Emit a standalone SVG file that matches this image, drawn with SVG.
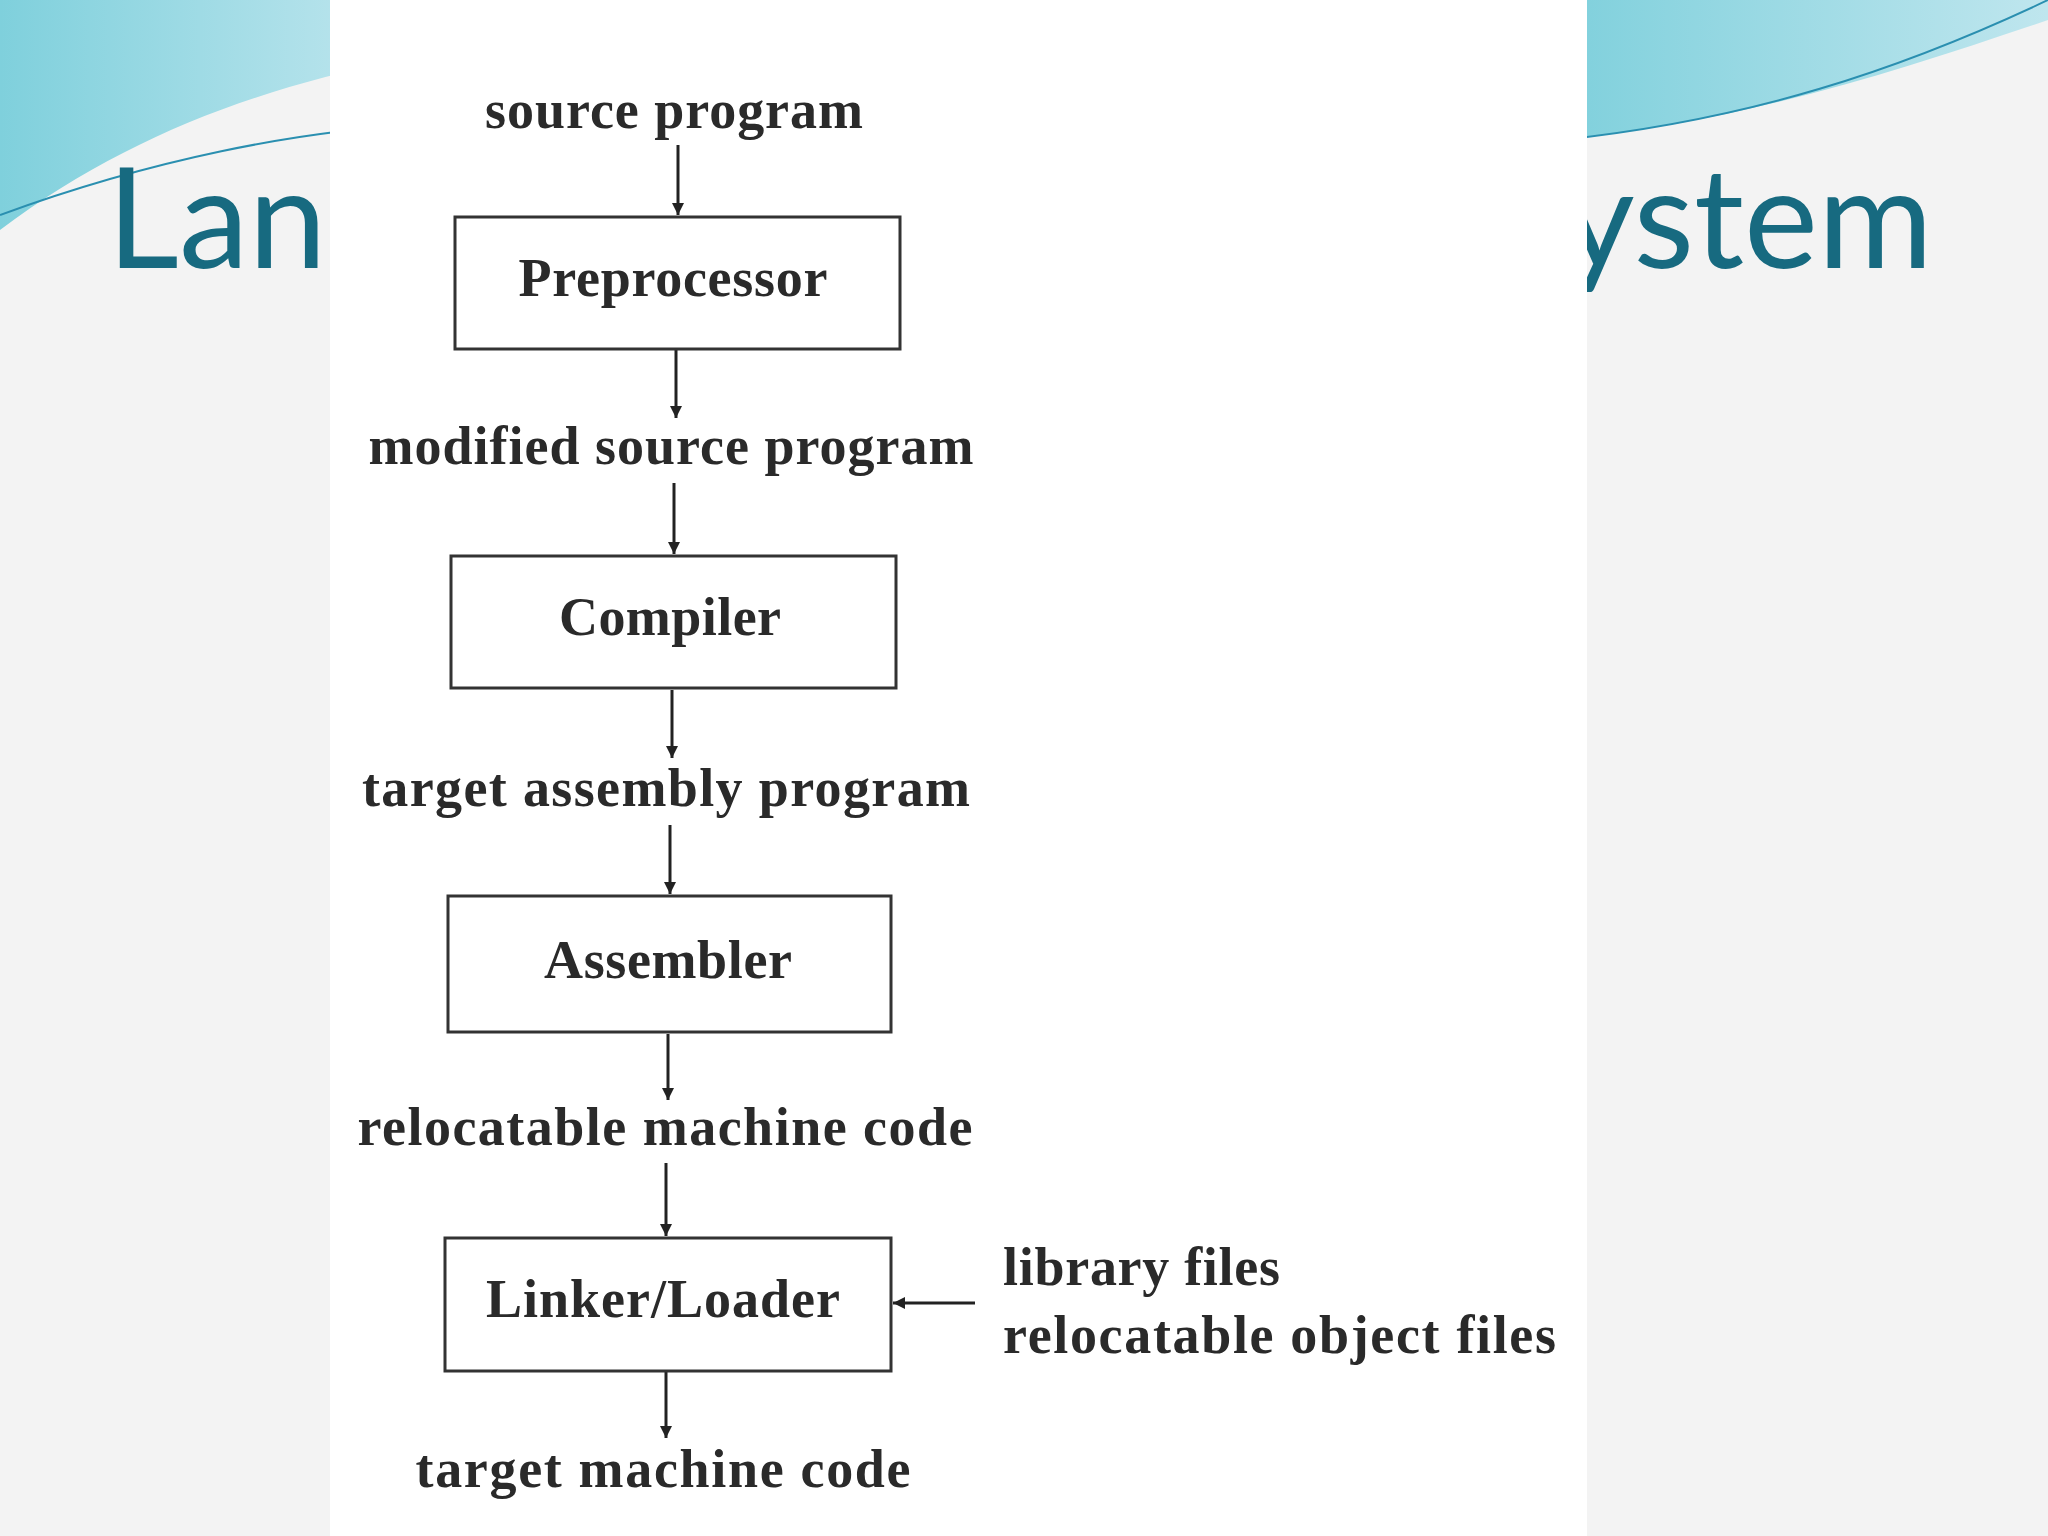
<svg xmlns="http://www.w3.org/2000/svg" width="2048" height="1536" viewBox="0 0 2048 1536">
<defs>
<marker id="ah" viewBox="0 0 10 10" refX="10" refY="5" markerWidth="12" markerHeight="16" orient="auto" markerUnits="userSpaceOnUse"><path d="M0,0 L10,5 L0,10 z" fill="#222"/></marker>
<linearGradient id="wv" x1="0" y1="0" x2="1" y2="0"><stop offset="0" stop-color="#7fd0dc"/><stop offset="1" stop-color="#bfe6ee"/></linearGradient>
</defs>
<style>
.box{fill:#fff;stroke:#333;stroke-width:3}
.t{font-family:"Liberation Serif",serif;font-size:54px;font-weight:bold;fill:#2a2a2a;text-anchor:middle}
.l{font-family:"Liberation Serif",serif;font-size:54px;font-weight:bold;fill:#2a2a2a}
.c{stroke:#222;stroke-width:3;fill:none;marker-end:url(#ah)}
.ti{font-family:Lato,sans-serif;font-size:140px;fill:#176a80}
</style>
<rect width="2048" height="1536" fill="#f3f3f3"/>
<path d="M0,0 H400 V60 C250,90 120,140 0,230 Z" fill="url(#wv)"/>
<path d="M0,215 C150,160 300,130 420,125" stroke="#2a8fb0" stroke-width="2" fill="none"/>
<path d="M1560,0 H2048 V20 C1900,70 1750,120 1560,140 Z" fill="url(#wv)"/>
<path d="M1560,140 C1750,120 1900,70 2048,0" stroke="#2a8fb0" stroke-width="2" fill="none"/>
<g id="title"><text class="ti" x="107" y="268">Lan</text><text class="ti" x="1933" y="268" text-anchor="end">ystem</text></g>
<rect x="330" y="0" width="1257" height="1536" fill="#fff"/>
<g id="connectors">
<line class="c" x1="678" y1="145" x2="678" y2="215"/>
<line class="c" x1="676" y1="350" x2="676" y2="418"/>
<line class="c" x1="674" y1="483" x2="674" y2="554"/>
<line class="c" x1="672" y1="690" x2="672" y2="758"/>
<line class="c" x1="670" y1="825" x2="670" y2="894"/>
<line class="c" x1="668" y1="1034" x2="668" y2="1100"/>
<line class="c" x1="666" y1="1163" x2="666" y2="1236"/>
<line class="c" x1="666" y1="1372" x2="666" y2="1438"/>
<line class="c" x1="975" y1="1303" x2="893" y2="1303"/>
</g>
<g id="n_src"><text class="t" x="674" y="128" textLength="378">source program</text></g>
<g id="n_pre"><rect class="box" x="455" y="217" width="445" height="132"/><text class="t" x="673" y="296" textLength="309">Preprocessor</text></g>
<g id="n_mod"><text class="t" x="671" y="464" textLength="605">modified source program</text></g>
<g id="n_comp"><rect class="box" x="451" y="556" width="445" height="132"/><text class="t" x="670" y="635" textLength="222">Compiler</text></g>
<g id="n_tap"><text class="t" x="666" y="806" textLength="608">target assembly program</text></g>
<g id="n_asm"><rect class="box" x="448" y="896" width="443" height="136"/><text class="t" x="668" y="978" textLength="248">Assembler</text></g>
<g id="n_rmc"><text class="t" x="665" y="1145" textLength="615">relocatable machine code</text></g>
<g id="n_link"><rect class="box" x="445" y="1238" width="446" height="133"/><text class="t" x="663" y="1317" textLength="354">Linker/Loader</text></g>
<g id="n_tmc"><text class="t" x="663" y="1487" textLength="495">target machine code</text></g>
<g id="n_lib"><text class="l" x="1003" y="1285" textLength="277">library files</text><text class="l" x="1003" y="1353" textLength="553">relocatable object files</text></g>
</svg>
